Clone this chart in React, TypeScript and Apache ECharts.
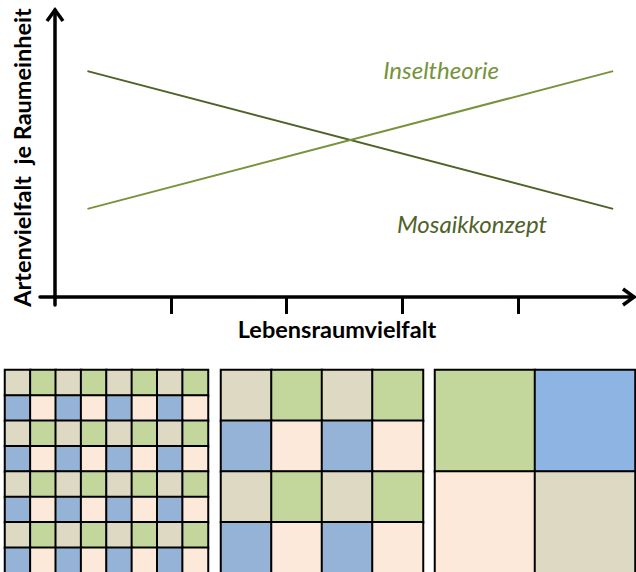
import React, { useEffect, useRef } from "react";
import * as echarts from "echarts";

// Line chart data (x = habitat diversity, y = species richness per unit area)
const lineX = [0.28, 4.82];
const inselValues = [3.07, 7.87];
const mosaikValues = [7.87, 3.07];
const xTicks = [1, 2, 3, 4];

// Mosaic colour palette (index -> colour)
const palette = ["#ddd9c3", "#c3d69b", "#95b3d7", "#fde9d9", "#8eb4e3"];

// Mosaic patterns (rows top -> bottom, values are palette indices)
const mosaicFine = [
  [0, 1, 0, 1, 0, 1, 0, 1],
  [2, 3, 2, 3, 2, 3, 2, 3],
  [0, 1, 0, 1, 0, 1, 0, 1],
  [2, 3, 2, 3, 2, 3, 2, 3],
  [0, 1, 0, 1, 0, 1, 0, 1],
  [2, 3, 2, 3, 2, 3, 2, 3],
  [0, 1, 0, 1, 0, 1, 0, 1],
  [2, 3, 2, 3, 2, 3, 2, 3],
];
const mosaicMedium = [
  [0, 1, 0, 1],
  [2, 3, 2, 3],
  [0, 1, 0, 1],
  [2, 3, 2, 3],
];
const mosaicCoarse = [
  [1, 4],
  [3, 0],
];

const FONT = "Lato, 'Open Sans', sans-serif";

function heatData(m: number[][]) {
  const out: any[] = [];
  m.forEach((row, r) =>
    row.forEach((v, c) => {
      out.push([c, r, v]);
    })
  );
  return out;
}

function idx(n: number) {
  return Array.from({ length: n }, (_, i) => String(i));
}

export default function App() {
  const ref = useRef<HTMLDivElement>(null);
  useEffect(() => {
    if (!ref.current) return;
    const chart = echarts.init(ref.current, null, { renderer: "svg" });
    const mosaics = [mosaicFine, mosaicMedium, mosaicCoarse];
    const mgrids = [
      { left: 5, top: 370, width: 203, height: 203, outerBoundsMode: "none" },
      { left: 221, top: 370, width: 202, height: 203, outerBoundsMode: "none" },
      { left: 435, top: 370, width: 200, height: 203, outerBoundsMode: "none" },
    ];
    const option: any = {
      animation: false,
      backgroundColor: "#ffffff",
      grid: [
        { left: 40, top: 10, width: 594, bottom: 267, containLabel: false, outerBoundsMode: "none" },
        ...mgrids,
      ],
      visualMap: {
        type: "piecewise",
        show: false,
        seriesIndex: [2, 3, 4],
        dimension: 2,
        pieces: palette.map((c, i) => ({ value: i, color: c })),
      },
      xAxis: [
        {
          type: "value",
          gridIndex: 0,
          min: -0.13,
          max: 5,
          axisLine: { show: true, onZero: true, lineStyle: { color: "#000", width: 3.5 } },
          axisTick: {
            show: true,
            customValues: xTicks,
            inside: false,
            length: 17,
            lineStyle: { color: "#000", width: 3 },
          },
          axisLabel: { show: false },
          splitLine: { show: false },
          name: "Lebensraumvielfalt",
          nameLocation: "middle",
          nameGap: 12,
          nameTextStyle: { fontFamily: FONT, fontWeight: "bold", fontSize: 23.5, color: "#000" },
        },
        ...mosaics.map((m, i) => ({
          type: "category",
          gridIndex: i + 1,
          data: idx(m[0].length),
          show: false,
        })),
      ],
      yAxis: [
        {
          type: "value",
          gridIndex: 0,
          min: -0.28,
          max: 10,
          axisLine: { show: true, onZero: true, lineStyle: { color: "#000", width: 3.5 } },
          axisTick: { show: false },
          axisLabel: { show: false },
          splitLine: { show: false },
          name: "Artenvielfalt  je Raumeinheit",
          nameLocation: "middle",
          nameGap: 6,
          nameTextStyle: { fontFamily: FONT, fontWeight: "bold", fontSize: 23.5, color: "#000" },
        },
        ...mosaics.map((m, i) => ({
          type: "category",
          gridIndex: i + 1,
          data: idx(m.length),
          inverse: true,
          show: false,
        })),
      ],
      series: [
        {
          type: "line",
          name: "Mosaikkonzept",
          xAxisIndex: 0,
          yAxisIndex: 0,
          data: lineX.map((x, i) => [x, mosaikValues[i]]),
          showSymbol: false,
          lineStyle: { color: "#4f6228", width: 2 },
        },
        {
          type: "line",
          name: "Inseltheorie",
          xAxisIndex: 0,
          yAxisIndex: 0,
          data: lineX.map((x, i) => [x, inselValues[i]]),
          showSymbol: false,
          lineStyle: { color: "#77933c", width: 2 },
        },
        ...mosaics.map((m, i) => ({
          type: "heatmap",
          xAxisIndex: i + 1,
          yAxisIndex: i + 1,
          data: heatData(m),
          itemStyle: { borderColor: "#000", borderWidth: 2 },
          emphasis: { disabled: true },
        })),
      ],
      graphic: [
        {
          type: "polyline",
          shape: { points: [[47, 21], [55, 10], [63, 21]] },
          style: { stroke: "#000", lineWidth: 3.5, fill: "none" },
        },
        {
          type: "polyline",
          shape: { points: [[623, 289], [634, 297], [623, 305]] },
          style: { stroke: "#000", lineWidth: 3.5, fill: "none" },
        },
        {
          type: "text",
          x: 441,
          y: 69,
          style: {
            text: "Inseltheorie",
            fontFamily: FONT,
            fontStyle: "italic",
            fontSize: 24,
            fill: "#77933c",
            textAlign: "center",
            textVerticalAlign: "middle",
          },
        },
        {
          type: "text",
          x: 472,
          y: 223,
          style: {
            text: "Mosaikkonzept",
            fontFamily: FONT,
            fontStyle: "italic",
            fontSize: 24,
            fill: "#4f6228",
            textAlign: "center",
            textVerticalAlign: "middle",
          },
        },
      ],
    };
    chart.setOption(option);
    return () => chart.dispose();
  }, []);
  return (
    <div
      ref={ref}
      style={{ position: "fixed", left: 0, top: 0, width: 636, height: 572 }}
    />
  );
}
